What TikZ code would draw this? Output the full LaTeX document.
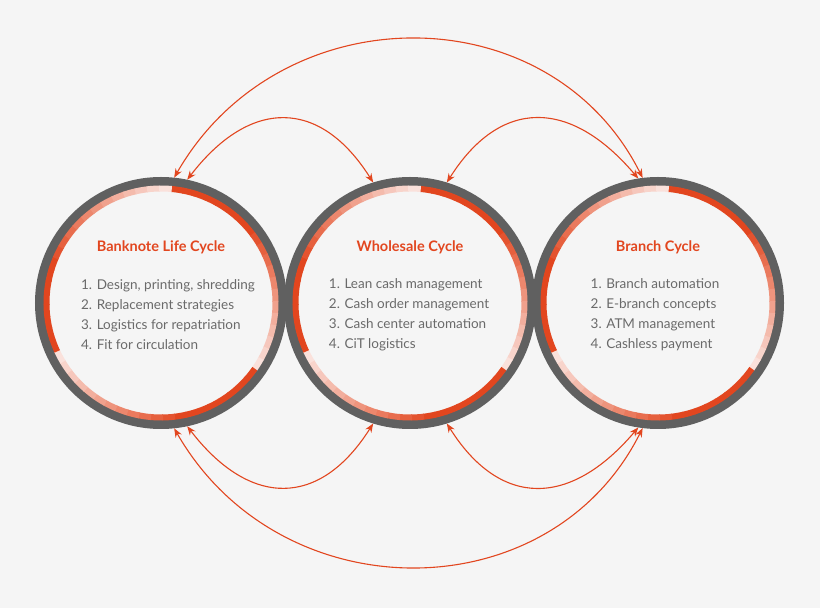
\documentclass[tikz,border=0pt]{standalone}
\usepackage{fontspec}
\setmainfont{Lato}
\usetikzlibrary{arrows.meta}
\definecolor{brandorange}{HTML}{E2461F}
\definecolor{ringgray}{HTML}{606060}
\definecolor{textgray}{HTML}{6A6A6A}
\definecolor{bggray}{HTML}{F5F5F5}
\tikzset{
  ring/.style={circle, draw=ringgray, line width=9pt, minimum size=243pt, inner sep=0pt},
  title/.style={text=brandorange, font=\bfseries\fontsize{14.5}{16}\selectfont},
  items/.style={text=textgray, align=left, font=\fontsize{13.5}{20}\selectfont},
  link/.style={draw=brandorange, line width=1.1pt, {Stealth[length=9pt,width=7pt]}-{Stealth[length=9pt,width=7pt]}}
}
% orange inner ring: three clockwise arcs that fade out
\newcommand{\fadering}[1]{%
  \foreach \s in {85,-35,-155}{
    \foreach \k in {0,...,19}{
      \pgfmathsetmacro{\mixv}{\k<8 ? 100 : 100-(\k-7)*7}
      \draw[brandorange!\mixv!white, line width=6pt]
        ($(#1)+(\s-\k*6:114.5pt)$) arc[start angle=\s-\k*6, end angle=\s-\k*6-6.4, radius=114.5pt];
    }
  }
}
\usetikzlibrary{calc}
\begin{document}
\begin{tikzpicture}[x=1pt,y=1pt]
  \fill[bggray] (0,0) rectangle (820,608);
  \useasboundingbox (0,0) rectangle (820,608);

  \node[ring] (c1) at (161,305) {};
  \node[ring] (c2) at (410,305) {};
  \node[ring] (c3) at (658,305) {};
  \fadering{c1}
  \fadering{c2}
  \fadering{c3}

  \node[title] (t1) at (161,361) {Banknote Life Cycle};
  \node[title] (t2) at (410,361) {Wholesale Cycle};
  \node[title] (t3) at (658,361) {Branch Cycle};

  \node[items] (l1) at (168,293) {1. Design, printing, shredding\\2. Replacement strategies\\3. Logistics for repatriation\\4. Fit for circulation};
  \node[items] (l2) at (409,293) {1. Lean cash management\\2. Cash order management\\3. Cash center automation\\4. CiT logistics};
  \node[items] (l3) at (655,293) {1. Branch automation\\2. E-branch concepts\\3. ATM management\\4. Cashless payment};

  % connectors above
  \draw[link] (c1.84) .. controls (280,615) and (550,615) .. (c3.97);
  \draw[link] (c1.78) .. controls (250,510) and (320,510) .. (c2.107);
  \draw[link] (c2.73) .. controls (500,510) and (570,510) .. (c3.99);
  % connectors below
  \draw[link] (c1.-84) .. controls (280,-5) and (550,-5) .. (c3.-97);
  \draw[link] (c1.-78) .. controls (250,100) and (320,100) .. (c2.-107);
  \draw[link] (c2.-73) .. controls (500,100) and (570,100) .. (c3.-99);
\end{tikzpicture}
\end{document}
